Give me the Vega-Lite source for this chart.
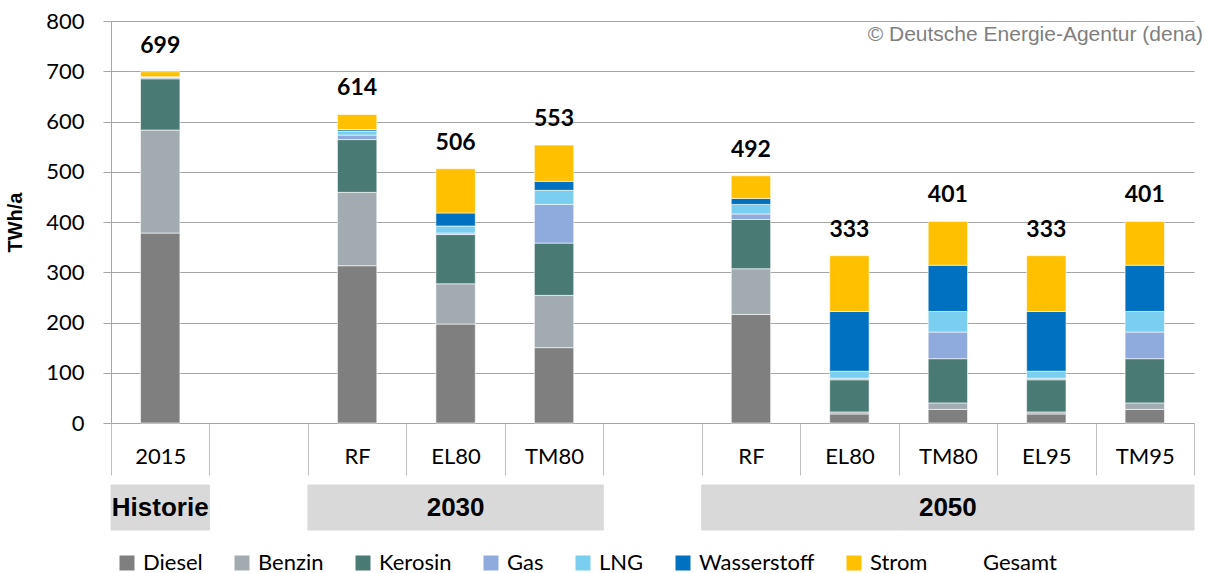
{
  "$schema": "https://vega.github.io/schema/vega-lite/v6.json",
  "background": "white",
  "padding": {"left": 5, "top": 10, "right": 3, "bottom": 0},
  "config": {
    "view": {"stroke": null},
    "font": "Lato",
    "legend": {
      "orient": "bottom",
      "direction": "horizontal",
      "symbolType": "square",
      "symbolSize": 225,
      "symbolStrokeWidth": 0,
      "labelFont": "Lato",
      "labelFontSize": 22,
      "labelColor": "black",
      "columnPadding": 28,
      "labelOffset": 5,
      "padding": 5,
      "offset": 16
    }
  },
  "datasets": {
    "carriers": [
      {"carrier": "Diesel", "rank": 1},
      {"carrier": "Benzin", "rank": 2},
      {"carrier": "Kerosin", "rank": 3},
      {"carrier": "Gas", "rank": 4},
      {"carrier": "LNG", "rank": 5},
      {"carrier": "Wasserstoff", "rank": 6},
      {"carrier": "Strom", "rank": 7}
    ]
  },
  "resolve": {"scale": {"x": "independent", "color": "shared"}, "legend": {"color": "shared"}},
  "spacing": 8,
  "vconcat": [
    {
      "width": 1083,
      "height": 402,
      "title": {
        "text": "© Deutsche Energie-Agentur (dena)",
        "anchor": "end",
        "frame": "group",
        "orient": "top",
        "font": "Liberation Sans",
        "fontSize": 21,
        "fontWeight": "normal",
        "color": "#7F7F7F",
        "dx": 9,
        "dy": 39
      },
      "data": {
        "values": [
          {"slot": "Historie|2015", "Diesel": 378, "Benzin": 205, "Kerosin": 102, "Gas": 3, "LNG": 1, "Wasserstoff": 0, "Strom": 10},
          {"slot": "2030|RF", "Diesel": 313, "Benzin": 146, "Kerosin": 105, "Gas": 9, "LNG": 8, "Wasserstoff": 3, "Strom": 30},
          {"slot": "2030|EL80", "Diesel": 197, "Benzin": 80, "Kerosin": 98, "Gas": 3, "LNG": 14, "Wasserstoff": 26, "Strom": 88},
          {"slot": "2030|TM80", "Diesel": 150, "Benzin": 104, "Kerosin": 104, "Gas": 77, "LNG": 28, "Wasserstoff": 18, "Strom": 72},
          {"slot": "2050|RF", "Diesel": 216, "Benzin": 91, "Kerosin": 98, "Gas": 11, "LNG": 19, "Wasserstoff": 12, "Strom": 45},
          {"slot": "2050|EL80", "Diesel": 18, "Benzin": 4, "Kerosin": 64, "Gas": 3, "LNG": 14, "Wasserstoff": 119, "Strom": 111},
          {"slot": "2050|TM80", "Diesel": 27, "Benzin": 13, "Kerosin": 88, "Gas": 53, "LNG": 41, "Wasserstoff": 92, "Strom": 87},
          {"slot": "2050|EL95", "Diesel": 18, "Benzin": 4, "Kerosin": 64, "Gas": 3, "LNG": 14, "Wasserstoff": 119, "Strom": 111},
          {"slot": "2050|TM95", "Diesel": 27, "Benzin": 13, "Kerosin": 88, "Gas": 53, "LNG": 41, "Wasserstoff": 92, "Strom": 87}
        ]
      },
      "transform": [
        {"fold": ["Diesel", "Benzin", "Kerosin", "Gas", "LNG", "Wasserstoff", "Strom"], "as": ["carrier", "value"]},
        {"lookup": "carrier", "from": {"data": {"name": "carriers"}, "key": "carrier", "fields": ["rank"]}}
      ],
      "encoding": {
        "x": {
          "field": "slot",
          "type": "nominal",
          "scale": {
            "domain": ["Historie|2015", "gap1|", "2030|RF", "2030|EL80", "2030|TM80", "gap2|", "2050|RF", "2050|EL80", "2050|TM80", "2050|EL95", "2050|TM95"],
            "paddingInner": 0,
            "paddingOuter": 0
          },
          "axis": {
            "title": null,
            "labelExpr": "split(datum.value, '|')[1]",
            "labelAngle": 0,
            "labelFont": "Lato",
            "labelFontSize": 22,
            "labelColor": "black",
            "tickBand": "extent",
            "tickSize": 52,
            "tickColor": "#BFBFBF",
            "domainColor": "#A6A6A6",
            "labelPadding": -29,
            "grid": false
          }
        }
      },
      "layer": [
        {
          "mark": {"type": "bar", "stroke": "white", "strokeWidth": 0.6, "width": {"band": 0.4}},
          "encoding": {
            "y": {
              "field": "value",
              "type": "quantitative",
              "stack": "zero",
              "scale": {"domain": [0, 800], "nice": false},
              "axis": {
                "title": "TWh/a",
                "titleFont": "Liberation Sans",
                "titleFontSize": 20,
                "titleFontWeight": "bold",
                "titleColor": "black",
                "titlePadding": 20,
                "values": [0, 100, 200, 300, 400, 500, 600, 700, 800],
                "labelFont": "Lato",
                "labelFontSize": 22,
                "labelColor": "black",
                "labelPadding": 19,
                "tickSize": 8,
                "tickColor": "#A6A6A6",
                "domainColor": "#A6A6A6",
                "grid": true,
                "gridColor": "#A6A6A6"
              }
            },
            "color": {
              "field": "carrier",
              "type": "nominal",
              "scale": {
                "domain": ["Diesel", "Benzin", "Kerosin", "Gas", "LNG", "Wasserstoff", "Strom", "Gesamt"],
                "range": ["#7F7F7F", "#A2ACB0", "#497A74", "#8FAADC", "#7ACEF0", "#0070C0", "#FFC000", "rgba(255,255,255,0)"]
              },
              "legend": {"title": null}
            },
            "order": {"field": "rank", "type": "quantitative", "sort": "ascending"}
          }
        },
        {
          "mark": {"type": "text", "font": "Lato", "fontSize": 23, "fontWeight": "bold", "color": "black", "baseline": "alphabetic", "dy": -19},
          "encoding": {
            "y": {"field": "value", "type": "quantitative", "aggregate": "sum"},
            "text": {"field": "value", "type": "quantitative", "aggregate": "sum"}
          }
        }
      ]
    },
    {
      "width": 1083,
      "height": 45,
      "data": {
        "values": [
          {"slot": "Historie|2015", "group": "Historie", "label": "Historie"},
          {"slot": "gap1|", "group": "", "label": ""},
          {"slot": "2030|RF", "group": "2030", "label": ""},
          {"slot": "2030|EL80", "group": "2030", "label": "2030"},
          {"slot": "2030|TM80", "group": "2030", "label": ""},
          {"slot": "gap2|", "group": "", "label": ""},
          {"slot": "2050|RF", "group": "2050", "label": ""},
          {"slot": "2050|EL80", "group": "2050", "label": ""},
          {"slot": "2050|TM80", "group": "2050", "label": "2050"},
          {"slot": "2050|EL95", "group": "2050", "label": ""},
          {"slot": "2050|TM95", "group": "2050", "label": ""}
        ]
      },
      "encoding": {
        "x": {
          "field": "slot",
          "type": "nominal",
          "scale": {
            "domain": ["Historie|2015", "gap1|", "2030|RF", "2030|EL80", "2030|TM80", "gap2|", "2050|RF", "2050|EL80", "2050|TM80", "2050|EL95", "2050|TM95"],
            "paddingInner": 0,
            "paddingOuter": 0
          },
          "axis": null
        }
      },
      "layer": [
        {
          "transform": [{"filter": "datum.group != ''"}],
          "mark": {"type": "bar", "color": "#D9D9D9", "stroke": "#D9D9D9", "strokeWidth": 1},
          "encoding": {}
        },
        {
          "transform": [{"filter": "datum.label != ''"}],
          "mark": {"type": "text", "font": "Liberation Sans", "fontSize": 26, "fontWeight": "bold", "color": "black", "baseline": "middle"},
          "encoding": {"text": {"field": "label", "type": "nominal"}}
        }
      ]
    }
  ]
}
